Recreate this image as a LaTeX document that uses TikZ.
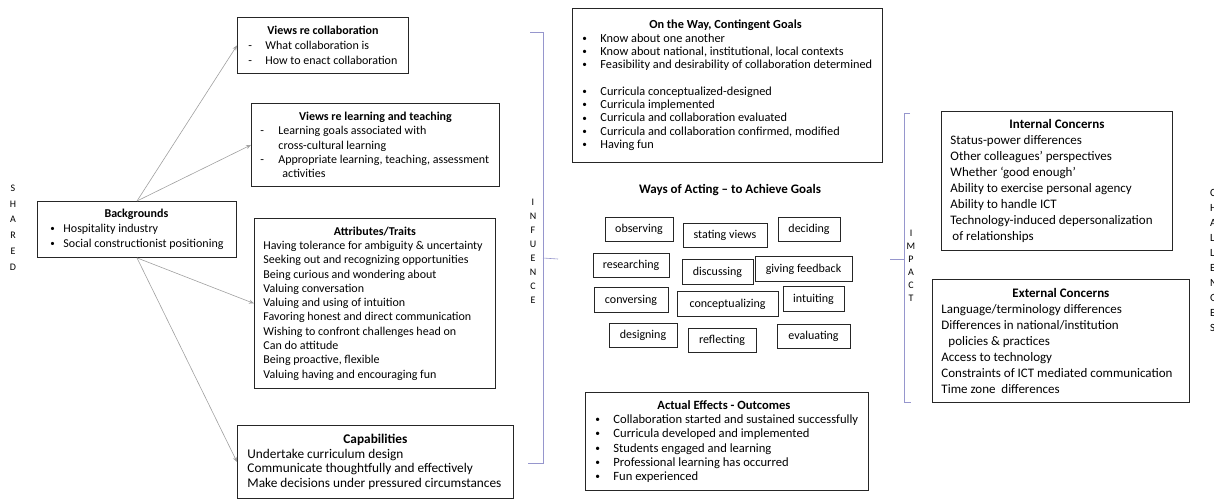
\documentclass[tikz,border=0pt]{standalone}
\usepackage{fontspec}
\setmainfont{Carlito}
\usetikzlibrary{arrows.meta}
\definecolor{bracecol}{RGB}{150,150,205}
\definecolor{feedcol}{RGB}{160,160,160}
\newcommand{\bu}[1][18pt]{\makebox[#1][l]{\raisebox{0.15ex}{\scalebox{0.75}{\textbullet}}}}
\newcommand{\da}[1][17pt]{\makebox[#1][l]{-}}
\newcommand{\ttl}[2]{\makebox[#1][c]{\bfseries #2}}

\begin{document}
\begin{tikzpicture}[x=1pt,y=-1pt, % pixel grid 1214x500
   panel/.style={draw=black!85,line width=0.9pt,anchor=north west,align=left,inner ysep=0pt,
                 font=\fontsize{12}{14.3}\selectfont},
   act/.style={draw=black!85,line width=0.9pt,inner sep=0pt,minimum height=24.5pt,
               font=\fontsize{12}{14}\selectfont},
   spine/.style={align=center,inner sep=0pt,font=\fontsize{10}{15.8}\selectfont},
   feed/.style={draw=feedcol,line width=0.6pt,-{Stealth[length=5pt,width=4pt]}},
   brace/.style={draw=bracecol,line width=0.6pt}]
   \useasboundingbox (0,0) rectangle (1214,500);

   \node[spine] (shared) at (13,227.5) {S\\H\\A\\R\\E\\D};
   \node[panel,inner xsep=13pt,minimum height=56pt,font=\fontsize{12}{15}\selectfont] (bg) at (37,201)
      {\ttl{172pt}{Backgrounds}\\
       \bu[13pt]Hospitality industry\\
       \bu[13pt]Social constructionist positioning};

   \node[panel,inner xsep=11pt,minimum height=56pt,font=\fontsize{12}{15}\selectfont] (vcollab) at (237,17)
      {\ttl{149pt}{Views re collaboration}\\
       \da What collaboration is\\
       \da How to enact collaboration};
   \node[panel,inner xsep=9pt,minimum height=83pt] (vlearn) at (251,103)
      {\ttl{230pt}{Views re learning and teaching}\\
       \da[18pt]Learning goals associated with\\
       \hspace*{18pt}cross-cultural learning\\
       \da[18pt]Appropriate learning, teaching, assessment\\
       \hspace*{22pt}activities};
   \node[panel,inner xsep=9pt,minimum height=170pt] (attr) at (254,218)
      {\ttl{223pt}{Attributes/Traits}\\
       Having tolerance for ambiguity \& uncertainty\\
       Seeking out and recognizing opportunities\\
       Being curious and wondering about\\
       Valuing conversation\\
       Valuing and using of intuition\\
       Favoring honest and direct communication\\
       Wishing to confront challenges head on\\
       Can do attitude\\
       Being proactive, flexible\\
       Valuing having and encouraging fun};
   \node[panel,inner xsep=10pt,minimum height=73pt,font=\fontsize{13.3}{14.7}\selectfont] (capab) at (237,425)
      {\ttl{256pt}{Capabilities}\\
       Undertake curriculum design\\
       Communicate thoughtfully and effectively\\
       Make decisions under pressured circumstances};

   \draw[feed] (bg.north) -- (vcollab.west);
   \draw[feed] (bg.north) -- (vlearn.west);
   \draw[feed] (bg.south) -- (attr.west);
   \draw[feed] (bg.south) -- (capab.west);

   \draw[brace] (530,32) -- (543,32) -- (543,463) -- (528,463);
   \draw[brace] (543,258) -- (558,259);
   \node[spine,font=\fontsize{10}{14}\selectfont] (influence) at (533,251) {I\\N\\F\\U\\E\\N\\C\\E};

   \node[panel,inner xsep=10pt,minimum height=154pt,font=\fontsize{12.3}{13.3}\selectfont] (goals) at (572,8)
      {\ttl{286pt}{On the Way, Contingent Goals}\\
       \bu Know about one another\\
       \bu Know about national, institutional, local contexts\\
       \bu Feasibility and desirability of collaboration determined\\[13.3pt]
       \bu Curricula conceptualized-designed\\
       \bu Curricula implemented\\
       \bu Curricula and collaboration evaluated\\
       \bu Curricula and collaboration confirmed, modified\\
       \bu Having fun};

   \node[font=\bfseries\fontsize{13}{14}\selectfont] (ways) at (730,190) {Ways of Acting -- to Achieve Goals};
   \node[act,minimum width=68pt]  (observing) at (639,229.5) {observing};
   \node[act,minimum width=84pt]  (stating)   at (725,235.5) {stating views};
   \node[act,minimum width=62pt]  (deciding)  at (809,229.5) {deciding};
   \node[act,minimum width=76pt]  (research)  at (631,265.5) {researching};
   \node[act,minimum width=71pt]  (discuss)   at (717.5,272) {discussing};
   \node[act,minimum width=97pt]  (feedback)  at (803.5,269) {giving feedback};
   \node[act,minimum width=74pt]  (convers)   at (631,300)   {conversing};
   \node[act,minimum width=101pt] (concept)   at (727.5,304) {conceptualizing};
   \node[act,minimum width=61pt]  (intuit)    at (813.5,299) {intuiting};
   \node[act,minimum width=68pt]  (design)    at (643,335.5) {designing};
   \node[act,minimum width=68pt]  (reflect)   at (722,340.5) {reflecting};
   \node[act,minimum width=73pt]  (evaluate)  at (813.5,336.5) {evaluating};

   \node[panel,inner xsep=10pt,minimum height=98pt,font=\fontsize{12.6}{14.3}\selectfont] (effects) at (585,392)
      {\ttl{257pt}{Actual Effects - Outcomes}\\
       \bu Collaboration started and sustained successfully\\
       \bu Curricula developed and implemented\\
       \bu Students engaged and learning\\
       \bu Professional learning has occurred\\
       \bu Fun experienced};

   \draw[brace] (910,113) -- (904,113) -- (904,402) -- (911,402);
   \draw[brace] (904,259) -- (890,259);
   \node[spine,font=\fontsize{10}{13}\selectfont] (impact) at (911,265.5) {I\\M\\P\\A\\C\\T};

   \node[panel,inner xsep=9pt,minimum height=139pt,font=\fontsize{13}{16}\selectfont] (internal) at (941,111)
      {\ttl{213pt}{Internal Concerns}\\
       Status-power differences\\
       Other colleagues' perspectives\\
       Whether `good enough'\\
       Ability to exercise personal agency\\
       Ability to handle ICT\\
       Technology-induced depersonalization\\
       \hspace*{2pt}of relationships};
   \node[panel,inner xsep=9pt,minimum height=123pt,font=\fontsize{13}{16}\selectfont] (external) at (932,279)
      {\ttl{239pt}{External Concerns}\\
       Language/terminology differences\\
       Differences in national/institution\\
       \hspace*{7pt}policies \& practices\\
       Access to technology\\
       Constraints of ICT mediated communication\\
       Time zone~ differences};

   \node[spine,anchor=west,align=left,font=\fontsize{11}{15}\selectfont] (challenges) at (1210,260.5)
      {C\\H\\A\\L\\L\\E\\N\\G\\E\\S};
\end{tikzpicture}
\end{document}
